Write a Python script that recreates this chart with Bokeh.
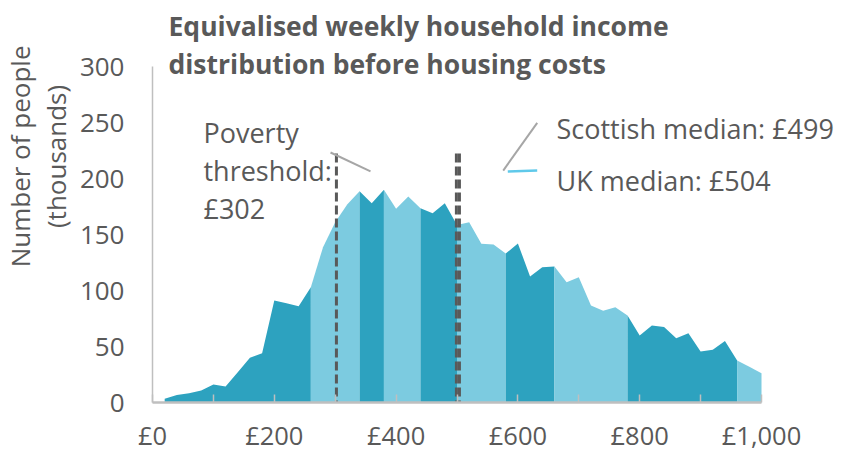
from bokeh.plotting import figure
from bokeh.models import Range1d, FixedTicker, Label
from bokeh.embed import file_html
from bokeh.resources import INLINE
import math

# ---- data ----
income = [20, 40, 60, 80, 100, 120, 140, 160, 180, 200,
          220, 240, 260, 280, 300, 320, 340, 360, 380, 400,
          420, 440, 460, 480, 500, 520, 540, 560, 580, 600,
          620, 640, 660, 680, 700, 720, 740, 760, 780, 800,
          820, 840, 860, 880, 900, 920, 940, 960, 980, 1000]
people = [3.3, 6.8, 8.3, 10.7, 16.0, 14.3, 27.0, 40.0, 44.0, 91.0,
          88.7, 86.0, 103.0, 138.7, 161.0, 177.0, 188.7, 178.0, 190.0, 173.0,
          184.0, 173.5, 169.0, 178.0, 158.5, 161.0, 141.7, 141.0, 133.0, 142.0,
          112.5, 120.8, 121.4, 107.4, 111.9, 86.6, 82.0, 85.0, 77.7, 59.8,
          68.8, 67.3, 57.4, 61.9, 45.5, 47.0, 54.8, 37.5, 32.0, 26.2]
decile_bounds = [260, 340, 380, 440, 500, 580, 660, 780, 960]
band_colors = ["#2da2bf", "#7ccbe0"]

x_ticks = [0, 200, 400, 600, 800, 1000]
x_tick_labels = ["£0", "£200", "£400", "£600", "£800", "£1,000"]
x_minor_ticks = [100, 300, 500, 700, 900]
y_ticks = [0, 50, 100, 150, 200, 250, 300]

poverty_threshold = 302
scottish_median = 499
uk_median = 504

TEXT = "#595959"
FONT = "Open Sans"

# layout: the frame covers the whole canvas; axes sit at fixed locations
W, H = 847, 452
X0_PX, PX_PER_X = 152, 0.609     # pixel of £0, pixels per £
Y0_PX, PX_PER_Y = 402, 1.12      # pixel of 0 people, pixels per thousand

p = figure(width=W, height=H, output_backend="svg", toolbar_location=None,
           x_range=Range1d(-X0_PX / PX_PER_X, (W - X0_PX) / PX_PER_X),
           y_range=Range1d(-(H - Y0_PX) / PX_PER_Y, Y0_PX / PX_PER_Y),
           min_border=0)
p.title.visible = False
p.outline_line_color = None
p.grid.visible = False
p.background_fill_color = "white"
p.border_fill_color = "white"

# ---- decile bands ----
edges = [income[0]] + decile_bounds + [income[-1]]
for i in range(len(edges) - 1):
    xs = [x for x in income if edges[i] <= x <= edges[i + 1]]
    ys = [people[income.index(x)] for x in xs]
    p.varea(x=xs, y1=[0] * len(xs), y2=ys, fill_color=band_colors[i % 2],
            fill_alpha=1.0)

# ---- dashed vertical markers ----
marker_top = 222.3
for m in [poverty_threshold, scottish_median, uk_median]:
    p.segment(x0=[m], y0=[marker_top], x1=[m], y1=[0], line_color=TEXT,
              line_width=3, line_dash="9 4")

# ---- leader lines ----
p.line(x=[292.3, 358.0], y=[223.2, 206.3], line_color="#a6a6a6", line_width=2)
p.line(x=[575.9, 631.7], y=[207.1, 249.7], line_color="#a6a6a6", line_width=2)
p.line(x=[583.4, 631.7], y=[206.3, 207.1], line_color="#5fc9ea", line_width=2.5)

# ---- axes ----
xa = p.xaxis[0]
xa.fixed_location = 0
xa.bounds = (0, 1000)
xa.ticker = FixedTicker(ticks=x_ticks, minor_ticks=x_minor_ticks)
xa.major_label_overrides = {t: lab for t, lab in zip(x_ticks, x_tick_labels)}
xa.axis_line_color = "#bfbfbf"
xa.axis_line_width = 2.5
xa.major_tick_line_color = "#bfbfbf"
xa.minor_tick_line_color = "#bfbfbf"
xa.major_tick_line_width = 1.5
xa.minor_tick_line_width = 1.5
xa.major_tick_in = 8
xa.major_tick_out = 0
xa.minor_tick_in = 8
xa.minor_tick_out = 0
xa.major_label_text_font = FONT
xa.major_label_text_font_size = "25.5px"
xa.major_label_text_color = TEXT
xa.major_label_standoff = 15

ya = p.yaxis[0]
ya.fixed_location = 0
ya.bounds = (0, 300)
ya.ticker = FixedTicker(ticks=y_ticks)
ya.axis_line_color = "#bfbfbf"
ya.axis_line_width = 1.5
ya.major_tick_in = 0
ya.major_tick_out = 0
ya.minor_tick_line_color = None
ya.major_label_text_font = FONT
ya.major_label_text_font_size = "26px"
ya.major_label_text_color = TEXT
ya.major_label_standoff = 28

# ---- title ----
for txt, yb in [("Equivalised weekly household income", 336.6),
                ("distribution before housing costs", 301.8)]:
    p.add_layout(Label(x=26.3, y=yb, text=txt, text_font=FONT,
                       text_font_size="26.5px", text_font_style="bold",
                       text_color=TEXT, text_align="left",
                       text_baseline="alphabetic"))

# ---- y axis title (two lines) ----
for txt, xb in [("Number of people", -218.3), ("(thousands)", -158.1)]:
    p.add_layout(Label(x=xb, y=219.7, text=txt, angle=math.pi / 2,
                       text_font=FONT, text_font_size="26px", text_color=TEXT,
                       text_align="center", text_baseline="alphabetic"))

# ---- annotations ----
for txt, yb in [("Poverty", 241.3), ("threshold:", 207.1),
                (f"£{poverty_threshold}", 173.2)]:
    p.add_layout(Label(x=83.7, y=yb, text=txt, text_font=FONT,
                       text_font_size="27px", text_color=TEXT,
                       text_align="left", text_baseline="alphabetic"))
for txt, yb in [(f"Scottish median: £{scottish_median}", 244.3),
                (f"UK median: £{uk_median}", 198.2)]:
    p.add_layout(Label(x=663.4, y=yb, text=txt, text_font=FONT,
                       text_font_size="27px", text_color=TEXT,
                       text_align="left", text_baseline="alphabetic"))

open("out.html", "w").write(file_html(p, INLINE))
